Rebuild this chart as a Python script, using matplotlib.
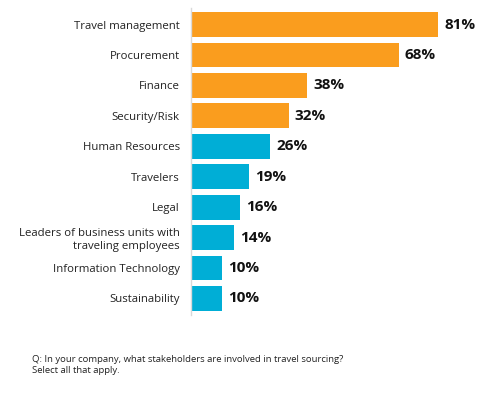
import matplotlib
matplotlib.use("Agg")
import matplotlib.pyplot as plt

# data
stakeholders = ["Travel management", "Procurement", "Finance", "Security/Risk",
                "Human Resources", "Travelers", "Legal",
                "Leaders of business units with\ntraveling employees",
                "Information Technology", "Sustainability"]
shares = [81, 68, 38, 32, 26, 19, 16, 14, 10, 10]
groups = ["top", "top", "top", "top", "other", "other", "other", "other", "other", "other"]

orange = "#FA9D1E"
blue = "#00AED6"
colors = [orange if g == "top" else blue for g in groups]

plt.rcParams["font.family"] = ["Open Sans", "DejaVu Sans"]

fig = plt.figure(figsize=(4.78, 3.93), dpi=100)
ax = fig.add_axes([0.3996, 0.198, 0.575, 0.782])

y = range(len(stakeholders))
ax.barh(y, shares, height=0.82, color=colors)
ax.set_ylim(9.55, -0.55)
ax.set_xlim(0, 90)

for i, v in enumerate(shares):
    ax.text(v + 2, i, f"{v}%", va="center", ha="left", fontsize=11,
            fontweight="bold", color="#111111")

ax.set_yticks(list(y))
ax.set_yticklabels(stakeholders, fontsize=8.2, color="#222222", linespacing=1.3)
ax.tick_params(axis="y", length=0, pad=8)
ax.set_xticks([])
for s in ["top", "right", "bottom"]:
    ax.spines[s].set_visible(False)
ax.spines["left"].set_color("#D9D9D9")
ax.spines["left"].set_linewidth(1)

fig.text(0.067, 1 - 365 / 393, "Q: In your company, what stakeholders are involved in travel sourcing?\nSelect all that apply.",
         fontsize=6.8, va="center", ha="left", color="#222222", linespacing=1.3)

fig.savefig("out.png", dpi=100)
